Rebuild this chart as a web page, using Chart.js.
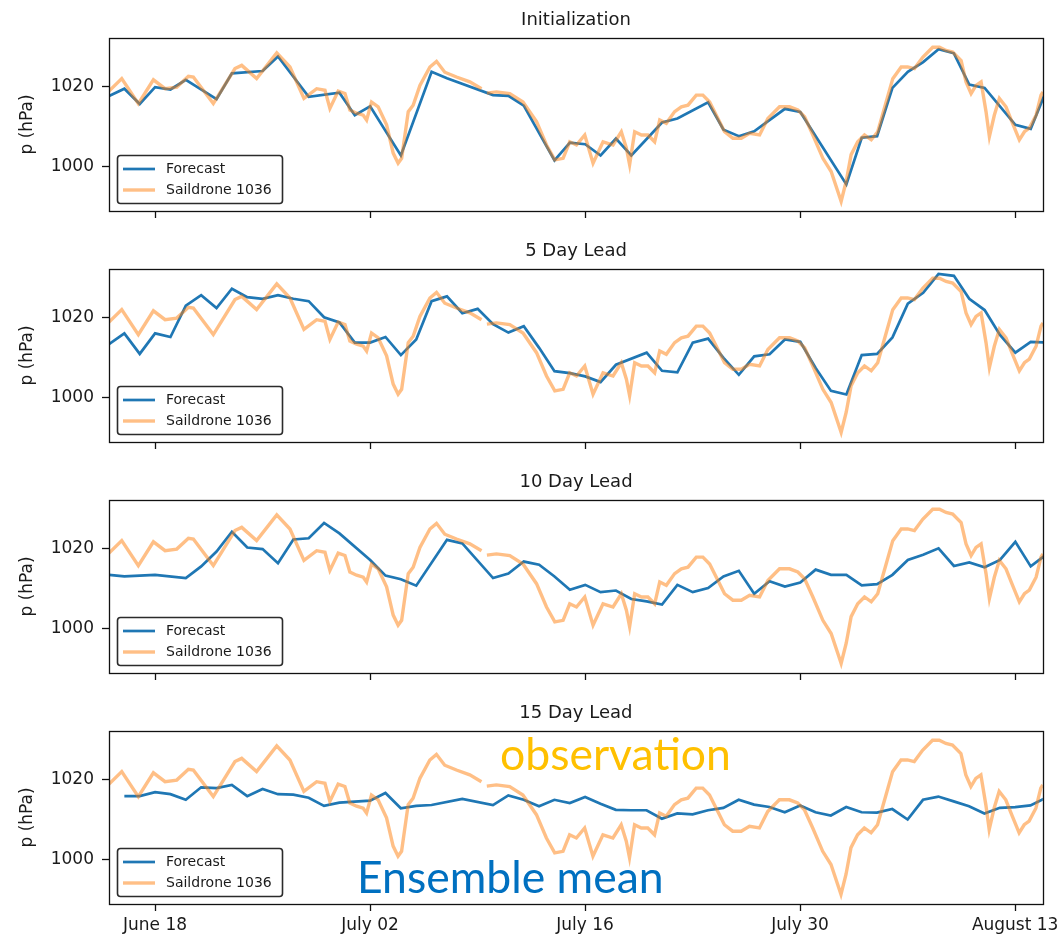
<!DOCTYPE html>
<html>
<head>
<meta charset="utf-8">
<script src="https://cdn.jsdelivr.net/npm/chart.js@4.4.1/dist/chart.umd.min.js"></script>
<style>
  html, body { margin: 0; padding: 0; background: #ffffff; }
  #wrap { position: relative; width: 1063px; height: 943px; overflow: hidden; background: #fff; }
  #wrap canvas { position: absolute; left: 0; }
</style>
</head>
<body>
<div id="wrap">
  <canvas id="p0" width="1063" height="231" style="top:0px"></canvas>
  <canvas id="p1" width="1063" height="231" style="top:231px"></canvas>
  <canvas id="p2" width="1063" height="231" style="top:462px"></canvas>
  <canvas id="p3" width="1063" height="250" style="top:693px"></canvas>
</div>
<script>
// Time axis: days counted from June 18.
const tickDays = [0, 14, 28, 42, 56];
const tickLabels = ["June 18", "July 02", "July 16", "July 30", "August 13"];
const yTicks = [1000, 1020];

// Saildrone 1036 surface pressure (hPa); null marks a gap in the record.
const obsDay = [-3.0, -2.17, -1.09, -0.11, 0.65, 1.41, 2.17, 2.49, 3.79, 5.20, 5.64, 6.61, 7.92, 8.78, 9.69,
  10.52, 11.06, 11.38, 11.92, 12.36, 12.68, 13.12, 13.55, 13.77, 14.09, 14.52, 15.07, 15.50, 15.82, 16.05,
  16.48, 16.80, 17.24, 17.89, 18.32, 18.86, 19.62, 20.49, 21.25, 21.42, 21.60, 22.22, 23.09, 23.95, 24.83,
  25.48, 26.02, 26.56, 26.99, 27.43, 27.97, 28.51, 29.16, 29.81, 30.35, 30.68, 30.89, 31.22, 31.66, 32.08,
  32.52, 32.85, 33.28, 33.82, 34.26, 34.69, 35.23, 35.66, 36.10, 36.64, 37.07, 37.61, 38.16, 38.70, 39.35,
  39.89, 40.65, 41.30, 41.84, 42.28, 42.82, 43.47, 44.01, 44.44, 44.66, 44.99, 45.31, 45.74, 46.18, 46.62,
  47.04, 47.59, 48.02, 48.57, 48.99, 49.43, 49.97, 50.62, 51.06, 51.49, 51.92, 52.47, 52.79, 53.12, 53.44,
  53.77, 54.09, 54.31, 54.63, 54.96, 55.39, 55.82, 56.26, 56.59, 56.91, 57.35, 57.67, 57.8];
const obsHpa = [1018.8, 1021.9, 1015.7, 1021.6, 1019.4, 1019.8, 1022.5, 1022.3, 1015.7, 1024.4, 1025.2, 1021.9, 1028.3, 1024.8, 1017.0,
  1019.4, 1019.0, 1014.5, 1018.8, 1018.2, 1014.1, 1013.3, 1012.8, 1011.6, 1016.1, 1014.9, 1010.4, 1003.4, 1000.9, 1002.1,
  1013.7, 1015.3, 1020.2, 1024.8, 1026.2, 1023.5, 1022.3, 1021.1, 1019.4, null, 1018.3, 1018.6, 1018.2, 1016.1, 1011.2,
  1005.4, 1001.7, 1002.1, 1006.2, 1005.4, 1007.9, 1000.9, 1006.2, 1005.4, 1008.7, 1004.6, 1000.5, 1008.7, 1007.9, 1007.9,
  1006.2, 1011.6, 1010.8, 1013.7, 1014.9, 1015.3, 1017.8, 1017.8, 1016.1, 1012.0, 1008.7, 1007.1, 1007.1, 1008.3, 1007.9,
  1012.0, 1014.9, 1014.9, 1014.1, 1012.4, 1007.9, 1002.1, 998.8, 993.9, 991.4, 996.4, 1003.0, 1006.2, 1007.9, 1006.7,
  1008.7, 1016.1, 1021.9, 1024.8, 1024.8, 1024.4, 1027.2, 1029.7, 1029.7, 1028.9, 1028.5, 1026.4, 1021.1, 1018.2, 1020.2,
  1021.1, 1013.7, 1007.5, 1012.8, 1017.0, 1014.9, 1010.8, 1006.7, 1008.7, 1009.6, 1012.8, 1017.8, 1018.6];

// Forecast at initialization
const initDay = [-3, -2, -1, 0, 1, 2, 4, 5, 7, 8, 10, 12, 13, 14, 16, 18, 19, 22, 23, 24, 26, 27, 28, 29, 30, 31,
  33, 34, 36, 37, 38, 39, 41, 42, 45, 46, 47, 48, 49, 50, 51, 52, 53, 54, 56, 57, 58];
const initHpa = [1017.6, 1019.4, 1015.6, 1019.8, 1019.2, 1021.6, 1016.8, 1023.2, 1023.8, 1027.4, 1017.4, 1018.4, 1012.8,
  1015.0, 1002.8, 1023.6, 1022.0, 1017.8, 1017.6, 1015.2, 1001.6, 1006.0, 1005.6, 1002.8, 1007.0, 1002.8, 1011.0, 1012.0,
  1016.0, 1009.2, 1007.6, 1008.8, 1014.4, 1013.6, 995.6, 1007.2, 1007.6, 1019.6, 1023.6, 1026.0, 1029.2, 1028.2, 1020.4,
  1019.6, 1010.4, 1009.4, 1018.8];

// Forecast at 5 day lead
const lead5Day = [-3, -2, -1, 0, 1, 2, 3, 4, 5, 6, 7, 8, 9, 10, 11, 12, 13, 14, 15, 16, 17, 18, 19, 20, 21, 22, 23, 24,
  25, 26, 27, 28, 29, 30, 32, 33, 34, 35, 36, 37, 38, 39, 40, 41, 42, 43, 44, 45, 46, 47, 48, 49, 50, 51, 52, 53, 54,
  55, 56, 57, 58];
const lead5Hpa = [1013.3, 1016.0, 1010.9, 1016.0, 1015.1, 1022.9, 1025.5, 1022.3, 1027.1, 1025.0, 1024.6, 1025.5, 1024.6,
  1024.0, 1020.0, 1018.7, 1013.7, 1013.7, 1015.1, 1010.6, 1014.5, 1024.0, 1025.2, 1021.0, 1022.1, 1018.3, 1016.2, 1017.8,
  1012.4, 1006.6, 1006.1, 1005.3, 1003.9, 1008.2, 1011.2, 1006.7, 1006.3, 1013.7, 1014.7, 1009.9, 1005.7, 1010.3, 1010.8,
  1014.5, 1013.9, 1007.4, 1001.7, 1000.8, 1010.6, 1010.9, 1015.0, 1023.4, 1026.1, 1030.8, 1030.3, 1024.6, 1021.8, 1015.6,
  1011.2, 1013.9, 1013.7];

// Forecast at 10 day lead
const lead10Day = [-3, -2, 0, 2, 3, 4, 5, 6, 7, 8, 9, 10, 11, 12, 14, 15, 16, 17, 19, 20, 22, 23, 24, 25, 26, 27, 28,
  29, 30, 31, 32, 33, 34, 35, 36, 37, 38, 39, 40, 41, 42, 43, 44, 45, 46, 47, 48, 49, 50, 51, 52, 53, 54, 55, 56, 57, 58];
const lead10Hpa = [1013.4, 1013.0, 1013.4, 1012.6, 1015.5, 1019.2, 1024.1, 1020.2, 1019.8, 1016.3, 1022.2, 1022.5, 1026.3,
  1023.7, 1017.1, 1013.2, 1012.3, 1010.7, 1022.1, 1021.2, 1012.6, 1013.7, 1016.7, 1015.9, 1013.0, 1009.7, 1010.9, 1009.1,
  1009.5, 1007.4, 1006.8, 1006.0, 1010.9, 1009.1, 1010.1, 1013.0, 1014.4, 1008.7, 1011.8, 1010.5, 1011.5, 1014.7, 1013.4,
  1013.4, 1010.8, 1011.1, 1013.4, 1017.1, 1018.4, 1020.0, 1015.6, 1016.5, 1015.3, 1017.1, 1021.6, 1015.5, 1018.4];

// Forecast at 15 day lead
const lead15Day = [-2, -1, 0, 1, 2, 3, 4, 5, 6, 7, 8, 9, 10, 11, 12, 14, 15, 16, 17, 18, 20, 22, 23, 24, 25, 26, 27, 28,
  29, 30, 31, 32, 33, 34, 35, 36, 37, 38, 39, 40, 41, 42, 43, 44, 45, 46, 47, 48, 49, 50, 51, 52, 53, 54, 55, 56, 57, 58];
const lead15Hpa = [1015.8, 1015.8, 1016.8, 1016.3, 1014.9, 1018.0, 1017.8, 1018.6, 1015.8, 1017.6, 1016.3, 1016.2, 1015.4,
  1013.4, 1014.2, 1014.7, 1016.6, 1012.8, 1013.4, 1013.6, 1015.1, 1013.6, 1016.0, 1014.9, 1013.3, 1014.9, 1014.1, 1015.6,
  1013.9, 1012.4, 1012.3, 1012.3, 1010.2, 1011.5, 1011.3, 1012.3, 1012.9, 1014.9, 1013.7, 1013.1, 1011.8, 1013.5, 1011.8,
  1011.0, 1013.1, 1011.8, 1011.7, 1012.6, 1010.0, 1014.9, 1015.7, 1014.5, 1013.3, 1011.5, 1012.9, 1013.1, 1013.5, 1015.4];

const panelTitles = ["Initialization", "5 Day Lead", "10 Day Lead", "15 Day Lead"];

const X_MIN = -3.0, X_MAX = 57.8;
const Y_MIN = 989, Y_MAX = 1032;
const FORECAST_COLOR = "#1f77b4";
const OBS_COLOR = "rgba(255,127,14,0.5)";
const TEXT_COLOR = "#1a1a1a";
const FONT = "DejaVu Sans";

const zip = (xs, ys) => xs.map((x, i) => ({ x: x, y: ys[i] }));

// Frame, panel title, in-axes legend and the overlaid annotation text.
const panelDecor = {
  id: "panelDecor",
  afterDraw(chart, args, opts) {
    const ctx = chart.ctx;
    const a = chart.chartArea;
    ctx.save();
    // frame on all four sides
    ctx.strokeStyle = "#111";
    ctx.lineWidth = 1.3;
    ctx.strokeRect(Math.round(a.left) + 0.5, Math.round(a.top) + 0.5,
                   Math.round(a.right - a.left), Math.round(a.bottom - a.top));
    // title
    ctx.fillStyle = TEXT_COLOR;
    ctx.font = "18px '" + FONT + "'";
    ctx.textAlign = "center";
    ctx.textBaseline = "alphabetic";
    ctx.fillText(opts.title, (a.left + a.right) / 2, a.top - 13.5);
    // legend
    const bx = a.left + 8.5, by = a.bottom - 55.5, bw = 165, bh = 48;
    ctx.beginPath();
    ctx.roundRect(bx, by, bw, bh, 3);
    ctx.fillStyle = "rgba(255,255,255,0.8)";
    ctx.fill();
    ctx.strokeStyle = "#2b2b2b";
    ctx.lineWidth = 1.6;
    ctx.stroke();
    const rows = [
      { label: "Forecast", color: FORECAST_COLOR, width: 2.7, y: a.bottom - 42 },
      { label: "Saildrone 1036", color: OBS_COLOR, width: 3.4, y: a.bottom - 21 }
    ];
    ctx.font = "14px '" + FONT + "'";
    ctx.textAlign = "left";
    ctx.textBaseline = "middle";
    rows.forEach(r => {
      ctx.beginPath();
      ctx.moveTo(a.left + 14, r.y);
      ctx.lineTo(a.left + 46, r.y);
      ctx.strokeStyle = r.color;
      ctx.lineWidth = r.width;
      ctx.stroke();
      ctx.fillStyle = TEXT_COLOR;
      ctx.fillText(r.label, a.left + 57, r.y + 0.5);
    });
    // annotation words
    if (opts.notes) {
      ctx.textAlign = "left";
      ctx.textBaseline = "alphabetic";
      ctx.font = "44.5px Lato";
      ctx.fillStyle = "#FFC000";
      ctx.fillText("observation", 500, 77);
      ctx.fillStyle = "#0070C0";
      ctx.fillText("Ensemble mean", 357, 200);
    }
    ctx.restore();
  }
};

const forecasts = [
  [initDay, initHpa], [lead5Day, lead5Hpa], [lead10Day, lead10Hpa], [lead15Day, lead15Hpa]
];

forecasts.forEach((fc, k) => {
  const isBottom = k === 3;
  const canvas = document.getElementById("p" + k);
  const gridOpts = {
    display: true,
    drawOnChartArea: false,
    drawTicks: true,
    tickLength: 7,
    tickColor: "#111",
    tickWidth: 1.3
  };
  new Chart(canvas, {
    type: "line",
    data: {
      datasets: [
        {
          label: "Forecast",
          data: zip(fc[0], fc[1]),
          borderColor: FORECAST_COLOR,
          borderWidth: 2.7,
          pointRadius: 0,
          tension: 0,
          fill: false,
          clip: 0,
          order: 1
        },
        {
          label: "Saildrone 1036",
          data: zip(obsDay, obsHpa),
          borderColor: OBS_COLOR,
          borderWidth: 3.4,
          pointRadius: 0,
          tension: 0,
          fill: false,
          spanGaps: false,
          clip: 0,
          order: 0
        }
      ]
    },
    options: {
      responsive: false,
      animation: false,
      events: [],
      layout: { padding: { top: 38, right: 20, left: 0, bottom: 0 } },
      scales: {
        x: {
          type: "linear",
          min: X_MIN,
          max: X_MAX,
          afterBuildTicks: s => { s.ticks = tickDays.map(v => ({ value: v })); },
          afterFit: s => { s.height = isBottom ? 39 : 20; },
          ticks: {
            display: isBottom,
            padding: 4,
            maxRotation: 0,
            autoSkip: false,
            color: TEXT_COLOR,
            font: { family: FONT, size: 17 },
            callback: v => tickLabels[tickDays.indexOf(v)]
          },
          grid: gridOpts,
          border: { display: false }
        },
        y: {
          type: "linear",
          min: Y_MIN,
          max: Y_MAX,
          afterBuildTicks: s => { s.ticks = yTicks.map(v => ({ value: v })); },
          afterFit: s => { s.width = 109; },
          ticks: {
            padding: 8,
            color: TEXT_COLOR,
            font: { family: FONT, size: 17 },
            callback: v => String(v)
          },
          title: {
            display: true,
            text: "p (hPa)",
            color: TEXT_COLOR,
            font: { family: FONT, size: 17 },
            padding: { top: 17, bottom: 0 }
          },
          grid: gridOpts,
          border: { display: false }
        }
      },
      plugins: {
        legend: { display: false },
        tooltip: { enabled: false },
        title: { display: false },
        panelDecor: { title: panelTitles[k], notes: isBottom }
      }
    },
    plugins: [panelDecor]
  });
});
</script>
</body>
</html>
